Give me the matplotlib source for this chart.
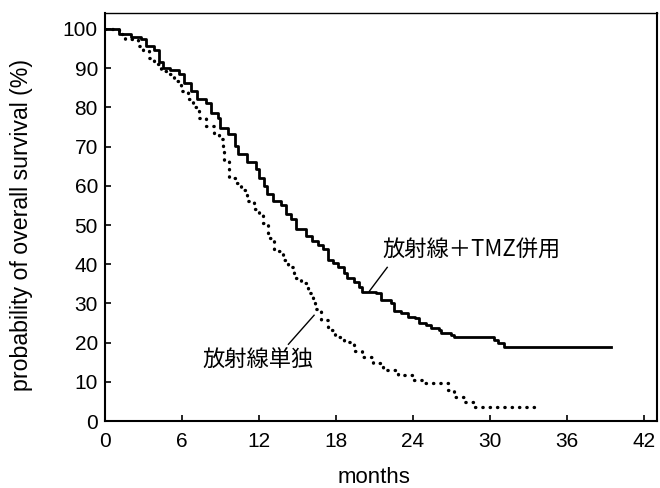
import matplotlib
matplotlib.use("Agg")
import matplotlib.pyplot as plt

plt.rcParams['font.family'] = ['Liberation Sans', 'DejaVu Sans']

# RT + TMZ (solid)
combo_t = [0, 1.1, 2.0, 2.8, 3.2, 3.8, 4.2, 4.5, 5.1, 5.8, 6.2, 6.7, 7.2, 7.9, 8.3, 8.8,
           9.0, 9.6, 10.1, 10.4, 11.1, 11.8, 12.0, 12.4, 12.6, 13.1, 13.7, 14.1, 14.5, 14.9,
           15.7, 16.1, 16.6, 17.0, 17.4, 17.8, 18.2, 18.6, 18.9, 19.4, 19.8, 20.0, 21.1,
           21.5, 22.3, 22.5, 23.1, 23.6, 24.2, 24.5, 25.0, 25.4, 26.0, 26.2, 27.0, 27.2,
           30.3, 30.6, 31.1, 39.4]
combo_s = [100, 98.8, 98.0, 97.4, 95.7, 94.5, 91.5, 90, 89.5, 88.5, 86.3, 84.2, 82.2, 81,
           78.6, 77.4, 74.8, 73.3, 70.2, 68, 66, 64.4, 62, 60, 58, 56.2, 55, 52.9, 51.6, 49,
           47.3, 46, 44.8, 44, 41, 40.2, 39.2, 37.7, 36.4, 35.4, 34.1, 32.8, 32.6, 30.8, 30,
           28.2, 27.5, 26.5, 26.2, 24.9, 24.4, 23.7, 23.2, 22.4, 21.9, 21.4, 20.6, 19.8,
           18.8, 18.8]

# RT alone (dotted)
rt_t = [0, 1.1, 1.6, 2.6, 3.0, 3.4, 3.8, 4.4, 5.1, 5.4, 5.9, 6.5, 6.9, 7.3, 7.9, 8.5, 8.9,
        9.2, 9.3, 9.7, 10.1, 10.6, 11.1, 11.6, 12.0, 12.3, 12.7, 13.2, 13.9, 14.3, 14.7,
        15.3, 15.8, 16.2, 16.4, 16.8, 17.4, 17.9, 18.6, 19.4, 20.0, 20.9, 21.7, 22.8, 23.9,
        24.9, 26.7, 27.2, 28.0, 28.7, 33.6]
rt_s = [100, 98.8, 97.4, 95.7, 94.4, 92.6, 91, 89.3, 88.5, 86.8, 84.2, 82.2, 80, 77.4,
        75.3, 73.3, 72, 69.8, 66.4, 62, 60.8, 58.8, 56.2, 54.2, 52.9, 50.4, 46.8, 43.5, 41,
        39.2, 36.6, 35.1, 32.6, 31.3, 28.5, 25.7, 23.2, 21.4, 20.1, 18, 16.3, 14.8, 13,
        11.7, 10.4, 9.7, 7.9, 6.1, 4.8, 3.6, 3.6]

x_ticks = [0, 6, 12, 18, 24, 30, 36, 42]
y_ticks = [0, 10, 20, 30, 40, 50, 60, 70, 80, 90, 100]

label_combo = "放射線＋TMZ併用"
label_rt = "放射線単独"

fig = plt.figure(figsize=(6.6, 4.88), dpi=100)
ax = fig.add_axes([0.159, 0.137, 0.836, 0.836])

ax.plot(combo_t, combo_s, drawstyle='steps-post', color='black', lw=2.0)
ax.plot(rt_t, rt_s, drawstyle='steps-post', color='black', lw=2.4,
        linestyle=(0, (0.1, 2.1)), dash_capstyle='round')

ax.set_xlim(0, 43)
ax.set_ylim(0, 104)
ax.set_xticks(x_ticks)
ax.set_yticks(y_ticks)
ax.tick_params(direction='in', length=4, width=1.2, labelsize=15)
ax.tick_params(axis='x', pad=8)
ax.tick_params(axis='y', pad=5)
for side in ['left', 'bottom', 'right']:
    ax.spines[side].set_linewidth(1.5)
ax.spines['top'].set_linewidth(1.0)

ax.set_xlabel("months", fontsize=16)
ax.xaxis.set_label_coords(0.488, -0.112)
ax.set_ylabel("probability of overall survival (%)", fontsize=16.7)
ax.yaxis.set_label_coords(-0.13, 0.48)

cjk = ['Noto Sans CJK JP', 'DejaVu Sans']
ax.text(21.6, 43.5, label_combo, fontsize=16, family=cjk, va='center', ha='left')
ax.plot([22.0, 20.6], [39.2, 33.1], color='black', lw=1.0)
ax.text(7.6, 15.5, label_rt, fontsize=16, family=cjk, va='center', ha='left')
ax.plot([14.3, 16.3], [19.6, 27.0], color='black', lw=1.0)

fig.savefig("out.png", dpi=100)
